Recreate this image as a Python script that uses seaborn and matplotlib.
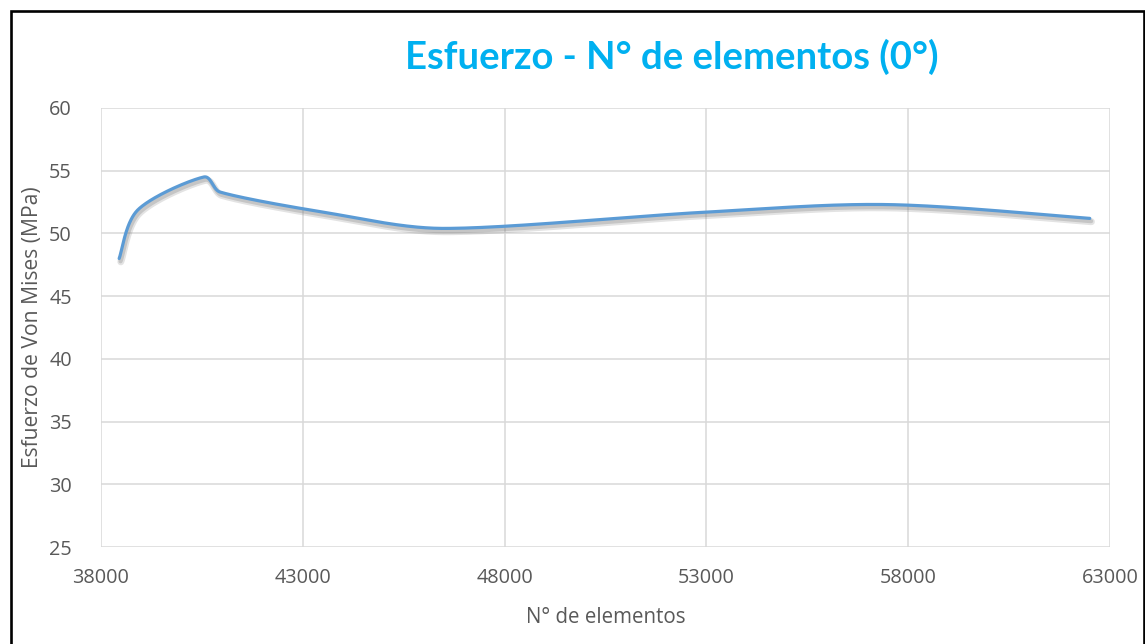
import numpy as np
import pandas as pd
import matplotlib
matplotlib.use("Agg")
import matplotlib.pyplot as plt
import matplotlib.patheffects as pe
from matplotlib.patches import Rectangle
import seaborn as sns

# Mesh convergence: number of elements vs. Von Mises stress
elementos = [38450, 38920, 40550, 40950, 43500, 46500, 53000, 57500, 62500]
esfuerzo = [48.0, 51.9, 54.5, 53.3, 51.7, 50.4, 51.7, 52.3, 51.2]

x_ticks = [38000, 43000, 48000, 53000, 58000, 63000]
y_ticks = [25, 30, 35, 40, 45, 50, 55, 60]

titulo = "Esfuerzo - N° de elementos (0°)"
etiqueta_x = "N° de elementos"
etiqueta_y = "Esfuerzo de Von Mises (MPa)"


def suavizar(xs, ys, sx=40.35 / 1000, sy=12.54, n=60):
    """Smoothed line through every point: cubic Bezier segments whose control
    arms follow the neighbouring points, computed in screen-like units and
    clamped so short segments do not overshoot."""
    p = np.column_stack([np.asarray(xs) * sx, np.asarray(ys) * sy]).astype(float)
    pts = []
    for i in range(len(p) - 1):
        p0 = p[i - 1] if i > 0 else p[i]
        p1, p2 = p[i], p[i + 1]
        p3 = p[i + 2] if i + 2 < len(p) else p[i + 1]
        seg_len = np.linalg.norm(p2 - p1)
        a1 = (p2 - p0) / 6.0
        a2 = (p3 - p1) / 6.0
        lim = seg_len / 3.0
        if np.linalg.norm(a1) > lim:
            a1 = a1 / np.linalg.norm(a1) * lim
        if np.linalg.norm(a2) > lim:
            a2 = a2 / np.linalg.norm(a2) * lim
        c1 = p1 + a1
        c2 = p2 - a2
        t = np.linspace(0, 1, n, endpoint=(i == len(p) - 2))[:, None]
        seg = ((1 - t) ** 3) * p1 + 3 * ((1 - t) ** 2) * t * c1 + 3 * (1 - t) * t ** 2 * c2 + t ** 3 * p2
        pts.append(seg)
    pts = np.vstack(pts)
    return pts[:, 0] / sx, pts[:, 1] / sy


cx, cy = suavizar(elementos, esfuerzo)
curva = pd.DataFrame({"elementos": cx, "esfuerzo": cy})

sns.set_theme(style="white")
plt.rcParams["font.family"] = ["Open Sans", "DejaVu Sans"]

fig = plt.figure(figsize=(11.45, 6.44), dpi=100)
ax = fig.add_axes([0.0882, 0.1506, 0.9694 - 0.0882, 0.8323 - 0.1506])

sns.lineplot(data=curva, x="elementos", y="esfuerzo", sort=False, ax=ax,
             color="#5B9BD5", linewidth=2.3, estimator=None)
linea = ax.lines[0]
linea.set_solid_capstyle("round")
linea.set_path_effects([
    pe.SimpleLineShadow(offset=(1.2, -2.4), shadow_color="#808080", alpha=0.22, linewidth=5.0),
    pe.SimpleLineShadow(offset=(1.0, -2.0), shadow_color="#808080", alpha=0.3, linewidth=3.0),
    pe.Normal(),
])

ax.set_xlim(38000, 63000)
ax.set_ylim(25, 60)
ax.set_xticks(x_ticks)
ax.set_yticks(y_ticks)
ax.set_xticklabels([str(v) for v in x_ticks])
ax.set_yticklabels([str(v) for v in y_ticks])
ax.grid(True, color="#D9D9D9", linewidth=1.1)
ax.set_axisbelow(True)
for s in ax.spines.values():
    s.set_visible(False)
ax.tick_params(axis="both", length=0, labelsize=14.3, labelcolor="#595959")
ax.tick_params(axis="x", pad=15)
ax.tick_params(axis="y", pad=21)

ax.set_xlabel(etiqueta_x, fontsize=14.8, color="#595959", labelpad=14)
ax.set_ylabel(etiqueta_y, fontsize=15.2, color="#595959")
ax.yaxis.label.set_verticalalignment("center")
ax.yaxis.set_label_coords(-0.0674, 0.5)

fig.text(0.587, 0.911, titulo, ha="center", va="center", fontsize=27.5,
         fontweight="bold", color="#00B0F0", family=["Lato", "DejaVu Sans"])

# Black frame around the chart area
fig.patches.append(Rectangle((10.8 / 1145, -0.05), (1144 - 10.8) / 1145, 1.05 - 10.8 / 644,
                             transform=fig.transFigure, fill=False, edgecolor="black",
                             linewidth=1.9, zorder=10))

fig.savefig("out.png", dpi=100)
